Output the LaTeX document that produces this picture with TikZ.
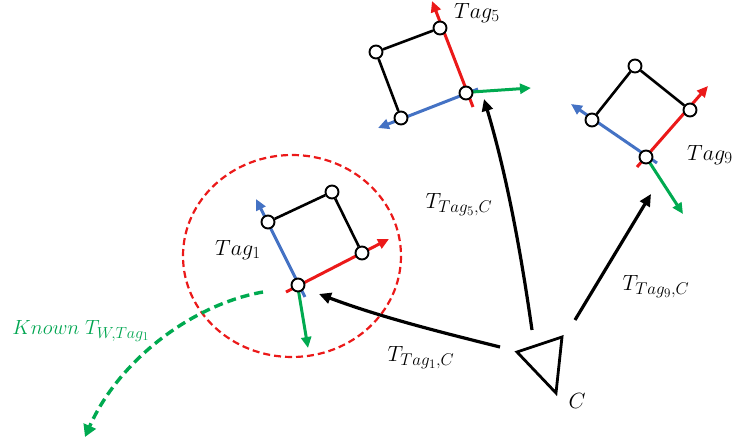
\RequirePackage{fix-cm}
\documentclass[tikz,border=0pt]{standalone}
\usetikzlibrary{arrows.meta}
\pgfdeclarelayer{background}
\pgfsetlayers{background,main}
\DeclareMathSizes{22}{22}{17}{13}
\DeclareMathSizes{20.5}{20.5}{16}{12}
\definecolor{axred}{RGB}{235,25,25}
\definecolor{axblue}{RGB}{68,114,196}
\definecolor{axgreen}{RGB}{0,170,80}
\definecolor{txtgreen}{RGB}{0,165,80}
\begin{document}
\begin{tikzpicture}[x=1pt,y=-1pt,
  marker/.style={circle,draw=black,fill=white,line width=1.9pt,minimum size=13pt,inner sep=0pt},
  sqedge/.style={line width=2.6pt,draw=black},
  axis/.style={line width=3pt,-{Triangle[length=11pt,width=10pt]}},
  link/.style={line width=3.2pt,-{Triangle[length=12pt,width=11pt]}},
  lbl/.style={font=\fontsize{22}{26}\selectfont,inner sep=0pt}]
\useasboundingbox (0,0) rectangle (737,443);

% ---------- Tag 5 ----------
\node[marker] (t5o) at (466,93) {};
\node[marker] (t5a) at (440,28) {};
\node[marker] (t5b) at (376,52) {};
\node[marker] (t5c) at (401,118) {};
\coordinate (t5rs) at (473,107); \coordinate (t5re) at (432,1);
\coordinate (t5bs) at (478,89);  \coordinate (t5be) at (378,128);
\coordinate (t5gs) at (472,92);  \coordinate (t5ge) at (531,88);
\node[lbl,anchor=west] (t5l) at (454,13) {$Tag_5$};

% ---------- Tag 9 ----------
\node[marker] (t9o) at (646,157) {};
\node[marker] (t9a) at (690,110) {};
\node[marker] (t9b) at (635,66) {};
\node[marker] (t9c) at (592,120) {};
\coordinate (t9rs) at (637,167); \coordinate (t9re) at (708,86);
\coordinate (t9bs) at (657,163); \coordinate (t9be) at (571,104);
\coordinate (t9gs) at (648,160); \coordinate (t9ge) at (683,214);
\node[lbl,anchor=west] (t9l) at (687,155) {$Tag_9$};

% ---------- Tag 1 ----------
\node[marker] (t1o) at (298,285) {};
\node[marker] (t1a) at (362,253) {};
\node[marker] (t1b) at (332,192) {};
\node[marker] (t1c) at (268,222) {};
\coordinate (t1rs) at (286,292); \coordinate (t1re) at (389,239);
\coordinate (t1bs) at (305,297); \coordinate (t1be) at (256,199);
\coordinate (t1gs) at (298,288); \coordinate (t1ge) at (308,348);
\node[lbl] (t1l) at (238,250) {$Tag_1$};

\begin{pgfonlayer}{background}
  \draw[sqedge] (t5a) -- (t5b) -- (t5c);
  \draw[sqedge] (t9a) -- (t9b) -- (t9c);
  \draw[sqedge] (t1a) -- (t1b) -- (t1c);
  \draw[axis,axred]   (t5rs) -- (t5re);
  \draw[axis,axblue]  (t5bs) -- (t5be);
  \draw[axis,axgreen] (t5gs) -- (t5ge);
  \draw[axis,axred]   (t9rs) -- (t9re);
  \draw[axis,axblue]  (t9bs) -- (t9be);
  \draw[axis,axgreen] (t9gs) -- (t9ge);
  \draw[axis,axblue]  (t1bs) -- (t1be);
  \draw[axis,axred]   (t1rs) -- (t1re);
  \draw[axis,axgreen] (t1gs) -- (t1ge);
\end{pgfonlayer}

% ---------- red dashed region ----------
\coordinate (reg) at (292,256);
\draw[axred,line width=2.2pt,dash pattern=on 7pt off 4pt] (reg) ellipse [x radius=109, y radius=101];

% ---------- camera ----------
\coordinate (c1) at (517,352);
\coordinate (c2) at (562,337);
\coordinate (c3) at (556,393);
\draw[line width=2.8pt,line join=miter] (c1) -- (c2) -- (c3) -- cycle;
\node[lbl] (cl) at (577,401) {$C$};

\coordinate (s1) at (500,347); \coordinate (e1) at (319,294);
\coordinate (s5) at (532,330); \coordinate (e5) at (484,99);
\coordinate (s9) at (575,320); \coordinate (e9) at (651,194);
\draw[link] (s1) .. controls (440,332) and (380,317) .. (e1);
\draw[link] (s5) .. controls (521,253) and (507,176) .. (e5);
\draw[link] (s9) -- (e9);

\node[lbl] (l5) at (459,205) {$T_{Tag_5,C}$};
\node[lbl] (l9) at (656,287) {$T_{Tag_9,C}$};
\node[lbl] (l1) at (421,358) {$T_{Tag_1,C}$};

% ---------- known transform ----------
\coordinate (ks) at (263,292);
\coordinate (ke) at (85,437);
\draw[axgreen,line width=3.4pt,dash pattern=on 9pt off 5pt,-{Triangle[length=12pt,width=13pt]}]
  (ks) .. controls (190,305) and (118,362) .. (ke);
\node[lbl,font=\fontsize{20.5}{24}\selectfont,text=txtgreen] (kl) at (81,331) {$Known\;T_{W,Tag_1}$};
\end{tikzpicture}
\end{document}
